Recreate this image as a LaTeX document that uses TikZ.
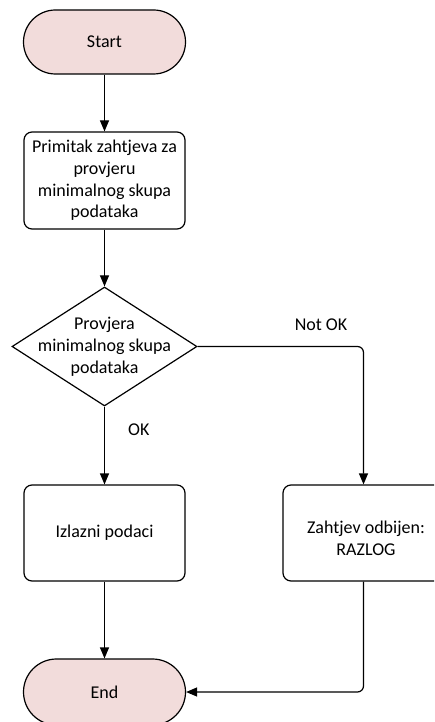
\documentclass[tikz,border=0pt]{standalone}
\usepackage{fontspec}
\setmainfont{Carlito}
\usetikzlibrary{shapes.geometric,arrows.meta}
\definecolor{termfill}{HTML}{F2DCDB}
\begin{document}
\begin{tikzpicture}[x=1pt,y=-1pt,
  every node/.style={font=\fontsize{18}{21.8}\selectfont, inner sep=0pt},
  line/.style={line width=1.2pt, draw=black},
  term/.style={line, fill=termfill, rectangle, rounded corners=32pt, minimum width=162pt, minimum height=64pt},
  procbox/.style={line, rectangle, rounded corners=8pt, minimum width=161pt, minimum height=96pt, align=center},
  decbox/.style={line, diamond, minimum width=185pt, minimum height=119pt},
  flow/.style={line, -{Triangle[width=9pt,length=11pt]}},
  lbl/.style={align=center}]
\useasboundingbox (0,0) rectangle (434,722);
\clip (0,0) rectangle (434,722);
\node[term] (start) at (104.5,42) {Start};
\node[procbox, minimum height=97pt] (box1) at (104.5,180.5) {Primitak zahtjeva za\\provjeru\\minimalnog skupa\\podataka};
\node[decbox] (dec) at (104.5,346.5) {};
\node[lbl] (dectext) at (dec.center) {Provjera\\minimalnog skupa\\podataka};
\node[procbox] (izl) at (104.5,533) {Izlazni podaci};
\node[procbox] (zah) at (363.5,533) {};
\node[lbl] (zahtext) at (366,538.5) {Zahtjev odbijen:\\RAZLOG};
\node[term, minimum height=66pt, rounded corners=33pt] (end) at (104.5,692) {End};
\coordinate (corner1) at (363.5,346.5);
\draw[flow] (start) -- (box1);
\draw[flow] (box1) -- (dec);
\draw[flow] (dec.south) -- node[pos=0.3, right=23pt] (oklbl) {OK} (izl.north);
\draw[flow, rounded corners=6pt] (dec.east) -- (corner1) -- (zah.north);
\node (notok) at (321,325) {Not OK};
\draw[flow] (izl) -- (end);
\draw[flow, rounded corners=6pt] (zah.south) |- (end.east);
\end{tikzpicture}
\end{document}
